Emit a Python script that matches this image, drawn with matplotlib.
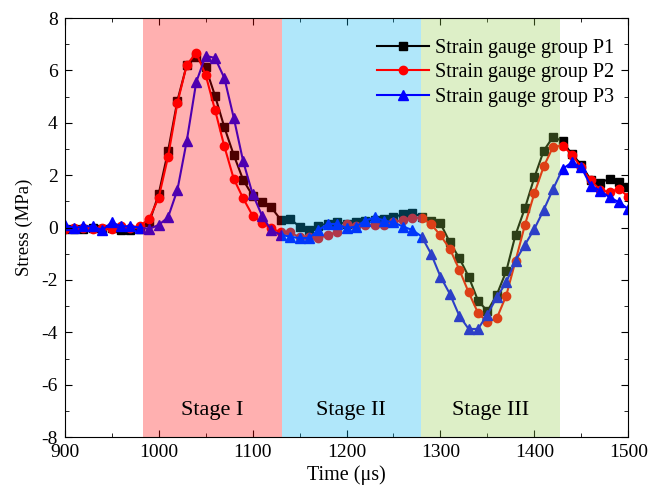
import numpy as np
import matplotlib
matplotlib.use("Agg")
import matplotlib.pyplot as plt
from matplotlib.ticker import MultipleLocator

plt.rcParams['font.family'] = ['Liberation Serif', 'DejaVu Serif']
plt.rcParams['axes.unicode_minus'] = False

# time axis, 10 us sampling
time = np.arange(900, 1501, 10)

p1 = [-0.05, -0.05, -0.05, -0.03, -0.05, -0.03, -0.1, -0.1, -0.05, 0.2,
      1.27, 2.91, 4.85, 6.22, 6.5, 6.12, 5.04, 3.83, 2.77, 1.82,
      1.22, 0.99, 0.77, 0.3, 0.33, 0.04, -0.09, 0.08, 0.15, 0.2,
      0.15, 0.2, 0.27, 0.3, 0.32, 0.39, 0.52, 0.57, 0.41, 0.27,
      0.16, -0.56, -1.16, -1.87, -2.79, -3.19, -2.56, -1.67, -0.27, 0.75,
      1.92, 2.94, 3.47, 3.29, 2.8, 2.4, 1.82, 1.72, 1.86, 1.73,
      1.55]
p2 = [-0.05, 0.0, 0.0, -0.05, 0.0, -0.05, 0.05, 0.0, 0.05, 0.34,
      1.13, 2.7, 4.76, 6.22, 6.67, 5.84, 4.5, 3.1, 1.86, 1.12,
      0.46, 0.19, -0.03, -0.18, -0.18, -0.37, -0.37, -0.39, -0.3, -0.15,
      0.14, 0.06, 0.1, 0.1, 0.1, 0.2, 0.3, 0.38, 0.37, 0.14,
      -0.3, -0.81, -1.6, -2.47, -3.26, -3.61, -3.46, -2.6, -1.26, 0.11,
      1.31, 2.34, 3.09, 3.13, 2.79, 2.3, 1.8, 1.44, 1.35, 1.48,
      1.18]
p3 = [0.1, -0.02, 0.05, 0.05, -0.1, 0.2, 0.05, 0.05, 0.0, -0.05,
      0.1, 0.39, 1.44, 3.32, 5.55, 6.56, 6.48, 5.71, 4.19, 2.53,
      1.29, 0.46, -0.11, -0.27, -0.35, -0.4, -0.4, -0.1, 0.14, 0.14,
      -0.02, 0.04, 0.27, 0.39, 0.27, 0.2, 0.04, -0.09, -0.34, -1.0,
      -1.87, -2.53, -3.36, -3.87, -3.87, -3.32, -2.66, -2.09, -1.26, -0.65,
      -0.05, 0.68, 1.48, 2.24, 2.49, 2.3, 1.6, 1.41, 1.16, 0.97,
      0.71]

stage_names = ["Stage I", "Stage II", "Stage III"]
stage_edges = [983, 1131, 1279, 1427]
stage_colors = ["#ff0000", "#00b4ef", "#94ce4d"]

fig = plt.figure(figsize=(6.6, 4.9), dpi=100)
ax = fig.add_axes([0.098, 0.108, 0.854, 0.855])

ax.plot(time, p1, '-s', color='black', ms=5.5, lw=1.5, label="Strain gauge group P1", zorder=1)
ax.plot(time, p2, '-o', color='red', ms=6, lw=1.5, label="Strain gauge group P2", zorder=1)
ax.plot(time, p3, '-^', color='blue', ms=7, lw=1.5, label="Strain gauge group P3", zorder=1)

# shaded stages drawn over the curves
for i in range(3):
    ax.axvspan(stage_edges[i], stage_edges[i + 1], color=stage_colors[i],
               alpha=0.31, lw=0, zorder=2)
    ax.text((stage_edges[i] + stage_edges[i + 1]) / 2, -7.0, stage_names[i],
            ha='center', va='center', fontsize=16, zorder=3)

ax.set_xlim(900, 1500)
ax.set_ylim(-8, 8)
ax.xaxis.set_major_locator(MultipleLocator(100))
ax.xaxis.set_minor_locator(MultipleLocator(50))
ax.yaxis.set_major_locator(MultipleLocator(2))
ax.yaxis.set_minor_locator(MultipleLocator(1))
ax.tick_params(which='both', direction='in', top=True, right=True, labelsize=14)
ax.tick_params(which='major', length=5, pad=5)
ax.tick_params(which='minor', length=3)

ax.set_xlabel("Time (μs)", fontsize=14.5, labelpad=3)
ax.set_ylabel("Stress (MPa)", fontsize=13.5, labelpad=6)

leg = ax.legend(loc='upper right', frameon=False, fontsize=14.5, handlelength=2.6,
                handletextpad=0.3, labelspacing=0.27, borderaxespad=0.3,
                bbox_to_anchor=(1.0, 0.985))
leg.set_zorder(5)

fig.savefig("out.png", dpi=100)
